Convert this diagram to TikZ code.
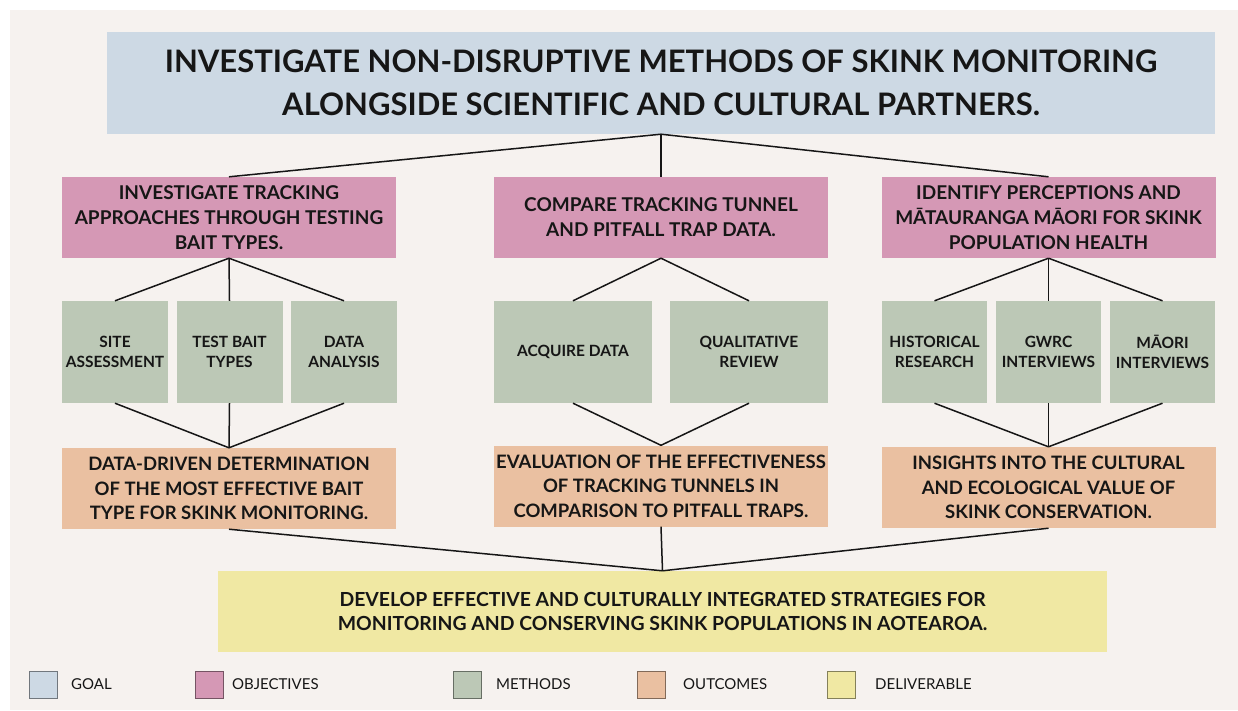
\documentclass[tikz,border=0pt]{standalone}
\usepackage{fontspec}
\setmainfont{Lato}
\usetikzlibrary{positioning}
\definecolor{bgclr}{HTML}{F6F2EF}
\definecolor{goalclr}{HTML}{CDD9E4}
\definecolor{objclr}{HTML}{D598B5}
\definecolor{methclr}{HTML}{BCC8B6}
\definecolor{outclr}{HTML}{EAC0A1}
\definecolor{delclr}{HTML}{F0E8A3}
\definecolor{txtclr}{HTML}{161616}
\newcommand{\objfont}{\fontsize{19}{24.8}\selectfont\bfseries}
\newcommand{\methfont}{\fontsize{15.5}{20}\selectfont\bfseries}

\tikzset{
    box/.style = {inner sep=0pt, align=center, text=txtclr},
    goalbox/.style = {box, fill=goalclr, minimum width=1108pt, minimum height=102pt,
        font=\fontsize{31}{43}\selectfont\bfseries},
    objbox/.style = {box, fill=objclr, minimum width=334pt, minimum height=81pt, font=\objfont},
    methbox/.style = {box, fill=methclr, minimum height=102pt, font=\methfont},
    outbox/.style = {box, fill=outclr, minimum width=334pt, minimum height=81pt,
        font=\fontsize{18.5}{24.5}\selectfont\bfseries},
    delbox/.style = {box, fill=delclr, minimum width=889pt, minimum height=81pt,
        font=\fontsize{19.4}{24.5}\selectfont\bfseries},
    link/.style = {draw=txtclr, line width=1.5pt},
    keybox/.style = {inner sep=0pt, minimum width=28pt, minimum height=27pt, line width=1pt},
    keytext/.style = {inner sep=0pt, anchor=west, text=txtclr, font=\fontsize{15}{17}\selectfont}
}

\begin{document}
\begin{tikzpicture}[x=1pt, y=-1pt]
    %canvas
        \path[use as bounding box, fill=white] (0,0) rectangle (1238,710);
        \fill[bgclr] (10,10) rectangle (1238,710);

    %goal
        \node[goalbox] (goal) at (661,83) {INVESTIGATE NON-DISRUPTIVE METHODS OF SKINK MONITORING\\ALONGSIDE SCIENTIFIC AND CULTURAL PARTNERS.};

    %objectives
        \node[objbox] (obj1) at (229,217.5) {INVESTIGATE TRACKING\\APPROACHES THROUGH TESTING\\BAIT TYPES.};
        \node[objbox] (obj2) at (661,217.5) {COMPARE TRACKING TUNNEL\\AND PITFALL TRAP DATA.};
        \node[objbox] (obj3) at (1048.5,217.5) {IDENTIFY PERCEPTIONS AND\\MĀTAURANGA MĀORI FOR SKINK\\POPULATION HEALTH};

    %methods, three rows of boxes under the objectives
        \node[methbox, minimum width=106pt] (m11) at (115,352) {SITE\\ASSESSMENT};
        \node[methbox, minimum width=106pt] (m12) at (229.5,352) {TEST BAIT\\TYPES};
        \node[methbox, minimum width=106pt] (m13) at (344,352) {DATA\\ANALYSIS};
        \node[methbox, minimum width=158pt] (m21) at (573,352) {ACQUIRE DATA};
        \node[methbox, minimum width=158pt] (m22) at (749,352) {QUALITATIVE\\REVIEW};
        \node[methbox, minimum width=105pt] (m31) at (934.5,352) {HISTORICAL\\RESEARCH};
        \node[methbox, minimum width=105pt] (m32) at (1048.5,352) {GWRC\\INTERVIEWS};
        \node[methbox, minimum width=105pt] (m33) at (1162.5,352) {MĀORI\\INTERVIEWS};

    %outcomes
        \node[outbox] (out1) at (229,488.5) {DATA-DRIVEN DETERMINATION\\OF THE MOST EFFECTIVE BAIT\\TYPE FOR SKINK MONITORING.};
        \node[outbox] (out2) at (661,486) {EVALUATION OF THE EFFECTIVENESS\\OF TRACKING TUNNELS IN\\COMPARISON TO PITFALL TRAPS.};
        \node[outbox] (out3) at (1048.5,487.5) {INSIGHTS INTO THE CULTURAL\\AND ECOLOGICAL VALUE OF\\SKINK CONSERVATION.};

    %deliverable
        \node[delbox] (del) at (662.5,611.5) {DEVELOP EFFECTIVE AND CULTURALLY INTEGRATED STRATEGIES FOR\\MONITORING AND CONSERVING SKINK POPULATIONS IN AOTEAROA.};

    %links goal to objectives, objectives to outcomes to deliverable
        \foreach \i in {1,2,3} {
            \draw[link] (goal.south) -- (obj\i.north);
            \draw[link] (out\i.south) -- (del.north);
        }
        %left column
        \foreach \j in {1,2,3} {
            \draw[link] (obj1.south) -- (m1\j.north);
            \draw[link] (m1\j.south) -- (out1.north);
        }
        %middle column
        \foreach \j in {1,2} {
            \draw[link] (obj2.south) -- (m2\j.north);
            \draw[link] (m2\j.south) -- (out2.north);
        }
        %right column
        \foreach \j in {1,2,3} {
            \draw[link] (obj3.south) -- (m3\j.north);
            \draw[link] (m3\j.south) -- (out3.north);
        }

    %legend
        \foreach \n/\kx/\tx/\clr/\lbl in {1/43/71/goalclr/GOAL, 2/209/232/objclr/OBJECTIVES,
                3/467/496/methclr/METHODS, 4/651.5/683/outclr/OUTCOMES, 5/841.5/875/delclr/DELIVERABLE} {
            \node[keybox, fill=\clr, draw=\clr!55!black] (k\n) at (\kx,684.5) {};
            \node[keytext] (l\n) at (\tx,684.5) {\lbl};
        }
\end{tikzpicture}
\end{document}
